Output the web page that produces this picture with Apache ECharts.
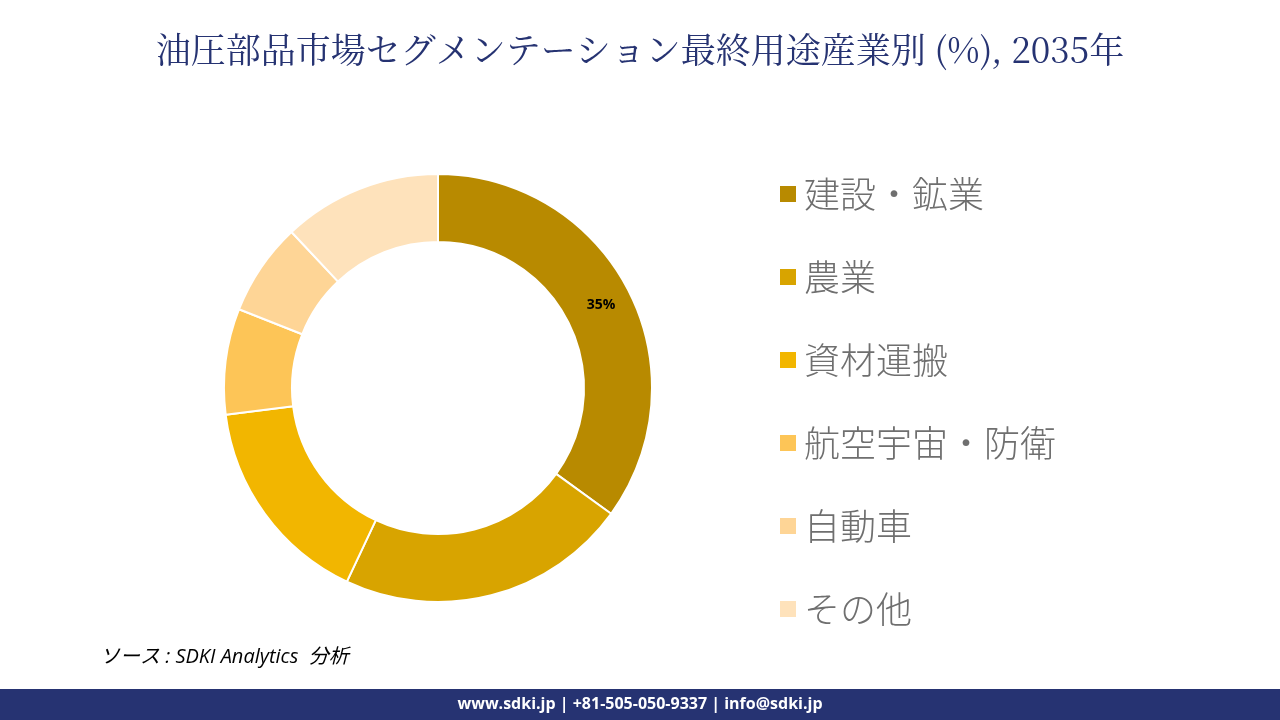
<!DOCTYPE html>
<html>
<head>
<meta charset="utf-8">
<title>油圧部品市場セグメンテーション</title>
<script src="https://cdn.jsdelivr.net/npm/echarts@6/dist/echarts.min.js"></script>
<style>
  html, body { margin: 0; padding: 0; background: #fff; }
  #main { width: 1280px; height: 720px; }
</style>
</head>
<body>
<div id="main"></div>
<script>
var categories = ['建設・鉱業', '農業', '資材運搬', '航空宇宙・防衛', '自動車', 'その他'];
var shares = [35, 22, 16, 8, 7, 12];
var colors = ['#b88a00', '#d8a400', '#f2b600', '#fdc557', '#fed596', '#fee2bb'];
var titleText = '油圧部品市場セグメンテーション最終用途産業別 (%), 2035年';
var sourceText = 'ソース : SDKI Analytics  分析';
var footerText = 'www.sdki.jp | +81-505-050-9337 | info@sdki.jp';

var chart = echarts.init(document.getElementById('main'));

var pieData = categories.map(function (name, i) {
    var item = { name: name, value: shares[i] };
    // only the largest slice carries a label
    if (i === 0) {
        item.label = {
            show: true, position: 'inside', formatter: '{c}%',
            color: '#000', fontSize: 14, fontWeight: 'bold',
            fontFamily: '"Open Sans", "Noto Sans"'
        };
    }
    return item;
});

chart.setOption({
    animation: false,
    color: colors,
    title: {
        text: titleText,
        left: 'center',
        top: 27,
        textStyle: {
            color: '#263372', fontSize: 35, fontWeight: 'normal',
            fontFamily: '"Noto Serif CJK JP", "Noto Sans CJK JP", serif'
        }
    },
    legend: {
        orient: 'vertical',
        left: 773,
        top: 165,
        icon: 'rect',
        itemWidth: 18,
        itemHeight: 18,
        itemGap: 35,
        textStyle: {
            color: '#6f6f6f', fontSize: 36, fontWeight: 300, lineHeight: 48,
            fontFamily: '"Noto Sans CJK JP"',
            padding: [0, 0, 0, 2]
        },
        data: categories
    },
    series: [{
        type: 'pie',
        center: [438, 388],
        radius: [146, 214],
        startAngle: 90,
        clockwise: true,
        label: { show: false },
        labelLine: { show: false },
        itemStyle: { borderColor: '#fff', borderWidth: 2 },
        data: pieData
    }],
    graphic: [
        {
            type: 'rect', z: 10,
            shape: { x: 0, y: 689, width: 1280, height: 31 },
            style: { fill: '#263372' }
        },
        {
            type: 'text', z: 11, x: 640, y: 704,
            style: {
                text: footerText, fill: '#fff', align: 'center', verticalAlign: 'middle',
                font: 'bold 16px "Open Sans", "Noto Sans"'
            }
        },
        {
            type: 'text', z: 11, x: 100, y: 657,
            style: {
                text: sourceText, fill: '#000', align: 'left', verticalAlign: 'middle',
                font: 'italic 20px "Open Sans", "Noto Sans CJK JP"'
            }
        }
    ]
});
</script>
</body>
</html>
